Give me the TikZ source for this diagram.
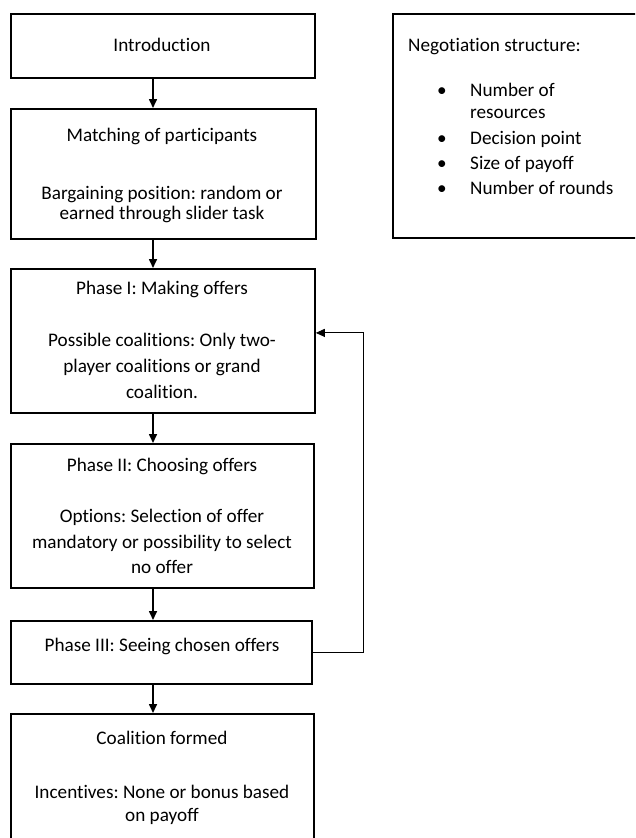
\documentclass[tikz,border=0pt]{standalone}
\usepackage{fontspec}
\setmainfont[Ligatures={NoCommon}]{Carlito}
\usetikzlibrary{arrows.meta}
\frenchspacing
\begin{document}
\begin{tikzpicture}[x=1pt,y=-1pt,
  box/.style={draw=black, line width=1.8pt, inner sep=0pt, anchor=north west},
  txt/.style={font=\fontsize{19.2}{23}\selectfont\frenchspacing, inner sep=0pt, anchor=base},
  ltxt/.style={txt, anchor=base west},
  flow/.style={line width=1.6pt, -{Triangle[length=9pt,width=8pt]}},
  back/.style={line width=0.9pt, -{Triangle[length=9pt,width=8pt]}}]
\useasboundingbox (0,0) rectangle (635,838);
\clip (0,0) rectangle (635,838);
% boxes
\node[box, minimum width=304pt, minimum height=64pt] (intro) at (10,13) {};
\node[box, minimum width=305pt, minimum height=130pt] (match) at (10,108) {};
\node[box, minimum width=304pt, minimum height=144pt] (p1) at (10,268) {};
\node[box, minimum width=303pt, minimum height=144pt] (p2) at (10,443) {};
\node[box, minimum width=301pt, minimum height=63pt] (p3) at (10,620) {};
\node[box, minimum width=303pt, minimum height=140pt] (coal) at (10,713) {};
\node[box, minimum width=260pt, minimum height=224pt] (neg) at (392,13) {};
% texts
\node[txt] (t1) at (162,51) {Introduction};
\node[txt] (t2) at (162,141) {Matching of participants};
\node[txt] (t3) at (162,199) {Bargaining position: random or};
\node[txt] (t4) at (162,219) {earned through slider task};
\node[txt] (t5) at (162,294) {Phase I: Making offers};
\node[txt] (t6) at (162,346) {Possible coalitions: Only two-};
\node[txt] (t7) at (162,372) {player coalitions or grand};
\node[txt] (t8) at (162,398) {coalition.};
\node[txt] (t9) at (162,471) {Phase II: Choosing offers};
\node[txt] (t10) at (162,522) {Options: Selection of offer};
\node[txt] (t11) at (162,548) {mandatory or possibility to select};
\node[txt] (t12) at (162,573) {no offer};
\node[txt] (t13) at (162,651) {Phase III: Seeing chosen offers};
\node[txt] (t14) at (162,744) {Coalition formed};
\node[txt] (t15) at (162,798) {Incentives: None or bonus based};
\node[txt] (t16) at (162,821) {on payoff};
\node[ltxt] (n0) at (408,51) {Negotiation structure:};
\node[txt] (b1) at (442,96) {•};
\node[ltxt] (n1) at (470,96) {Number of};
\node[ltxt] (n1b) at (470,118) {resources};
\node[txt] (b2) at (442,144) {•};
\node[ltxt] (n2) at (470,144) {Decision point};
\node[txt] (b3) at (442,169) {•};
\node[ltxt] (n3) at (470,169) {Size of payoff};
\node[txt] (b4) at (442,194) {•};
\node[ltxt] (n4) at (470,194) {Number of rounds};
% connectors
\coordinate (ax) at (153,0);
\coordinate (fb) at (363,0);
\draw[flow] (intro.south -| ax) -- (match.north -| ax);
\draw[flow] (match.south -| ax) -- (p1.north -| ax);
\draw[flow] (p1.south -| ax) -- (p2.north -| ax);
\draw[flow] (p2.south -| ax) -- (p3.north -| ax);
\draw[flow] ([yshift=1pt]p3.south -| ax) -- (coal.north -| ax);
\coordinate (fbt) at ([yshift=8pt]p1.east);
\draw[back] (p3.east) -| (fb |- fbt) -- (fbt);
\end{tikzpicture}
\end{document}
